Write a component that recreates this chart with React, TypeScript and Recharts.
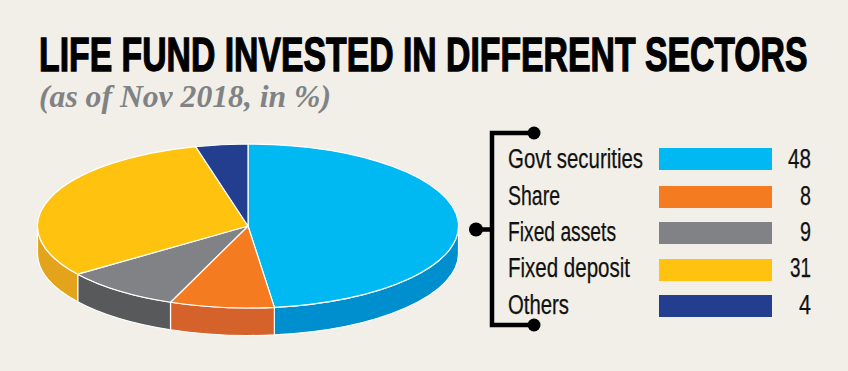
import React from 'react';
import { PieChart, Pie, Legend } from 'recharts';

const categories = ['Govt securities', 'Share', 'Fixed assets', 'Fixed deposit', 'Others'];
const values = [48, 8, 9, 31, 4];
const topColors = ['#00B9F2', '#F47B20', '#808285', '#FFC20E', '#233E8F'];
const wallColors = ['#008FCE', '#D4622A', '#58595B', '#E3A31A', '#1B2F6E'];

const labelWidths = [135, 52, 108, 122, 61];
const valueWidths = [23, 11, 11, 21, 12];
const labelBaselines = [168, 205, 241, 277, 314];
const swatchTops = [148, 186, 222, 259, 295];

const BG = '#F1EFE7';
const NARROW = '"Liberation Sans Narrow", "Liberation Sans", sans-serif';
const RX = 210.5;
const RY = 82;
const DEPTH = 27.5;

const chartData = categories.map((name, i) => ({ name, value: values[i], fill: topColors[i] }));

function EllipticalSector(props: any) {
  const { cx, cy, startAngle, endAngle, fill } = props;
  const k = RY / RX;
  const pt = (deg: number, dy = 0) => {
    const a = (deg * Math.PI) / 180;
    return [cx + RX * Math.cos(a), cy - RX * k * Math.sin(a) + dy];
  };
  const [x0, y0] = pt(startAngle);
  const [x1, y1] = pt(endAngle);
  const large = Math.abs(startAngle - endAngle) > 180 ? 1 : 0;
  const top = `M${cx},${cy}L${x0},${y0}A${RX},${RY} 0 ${large} 1 ${x1},${y1}Z`;
  const s = Math.min(startAngle, 0);
  const e = Math.max(endAngle, -180);
  let wall = null as React.ReactNode;
  if (s > e) {
    const [a0, b0] = pt(s);
    const [a1, b1] = pt(e);
    const d = `M${a0},${b0}A${RX},${RY} 0 0 1 ${a1},${b1}L${a1},${b1 + DEPTH}A${RX},${RY} 0 0 0 ${a0},${b0 + DEPTH}Z`;
    wall = <path d={d} fill={wallColors[topColors.indexOf(fill)]} stroke="#FFFFFF" strokeWidth={1.2} />;
  }
  return (
    <g>
      {wall}
      <path d={top} fill={fill} stroke="#FFFFFF" strokeWidth={1.2} strokeLinejoin="round" />
    </g>
  );
}

function LegendBlock() {
  return (
    <svg width={848} height={371} style={{ display: 'block' }}>
      {categories.map((c, i) => (
        <g key={c}>
          <text
            x={508}
            y={labelBaselines[i]}
            fontFamily={NARROW}
            fontSize={27}
            fill="#111111"
            stroke="#111111"
            strokeWidth={0.25}
            textLength={labelWidths[i]}
            lengthAdjust="spacingAndGlyphs"
          >
            {c}
          </text>
          <rect x={659} y={swatchTops[i]} width={113} height={22} fill={topColors[i]} />
          <text
            x={811 - valueWidths[i]}
            y={labelBaselines[i]}
            fontFamily={NARROW}
            fontSize={27}
            fill="#111111"
            stroke="#111111"
            strokeWidth={0.25}
            textLength={valueWidths[i]}
            lengthAdjust="spacingAndGlyphs"
          >
            {values[i]}
          </text>
        </g>
      ))}
    </svg>
  );
}

export default function App() {
  return (
    <div style={{ position: 'absolute', left: 0, top: 0, width: 848, height: 371, background: BG, overflow: 'hidden' }}>
      <svg width={848} height={371} style={{ position: 'absolute', left: 0, top: 0 }}>
        <text
          transform="translate(39,71) scale(0.711,1)"
          x={0}
          y={0}
          fontFamily={NARROW}
          fontWeight={700}
          fontSize={47.5}
          fill="#000000"
          stroke="#000000"
          strokeWidth={1.3}
        >
          LIFE FUND INVESTED IN DIFFERENT SECTORS
        </text>
        <text
          x={39}
          y={107}
          fontFamily='"Liberation Serif", serif'
          fontWeight={700}
          fontStyle="italic"
          fontSize={31}
          fill="#808285"
          textLength={292}
          lengthAdjust="spacingAndGlyphs"
        >
          (as of Nov 2018, in %)
        </text>
        <g fill="#000000" stroke="#000000">
          <path d="M534,133H492V325H534M476,229.5H492" fill="none" strokeWidth={4.5} />
          <circle cx={534} cy={133} r={6.5} stroke="none" />
          <circle cx={534} cy={325} r={6.5} stroke="none" />
          <circle cx={476} cy={229.5} r={7} stroke="none" />
        </g>
      </svg>
      <PieChart
        width={848}
        height={371}
        margin={{ top: 0, right: 0, bottom: 0, left: 0 }}
        style={{ position: 'absolute', left: 0, top: 0 }}
      >
        <Legend
          content={() => <LegendBlock />}
          wrapperStyle={{ position: 'absolute', left: 0, top: 0, width: 848, height: 371, pointerEvents: 'none' }}
        />
        <Pie
          data={chartData}
          dataKey="value"
          nameKey="name"
          cx={248}
          cy={226}
          outerRadius={RX}
          startAngle={90}
          endAngle={-270}
          paddingAngle={0}
          stroke="#FFFFFF"
          labelLine={false}
          label={false}
          shape={EllipticalSector}
          isAnimationActive={false}
        />
      </PieChart>
    </div>
  );
}
